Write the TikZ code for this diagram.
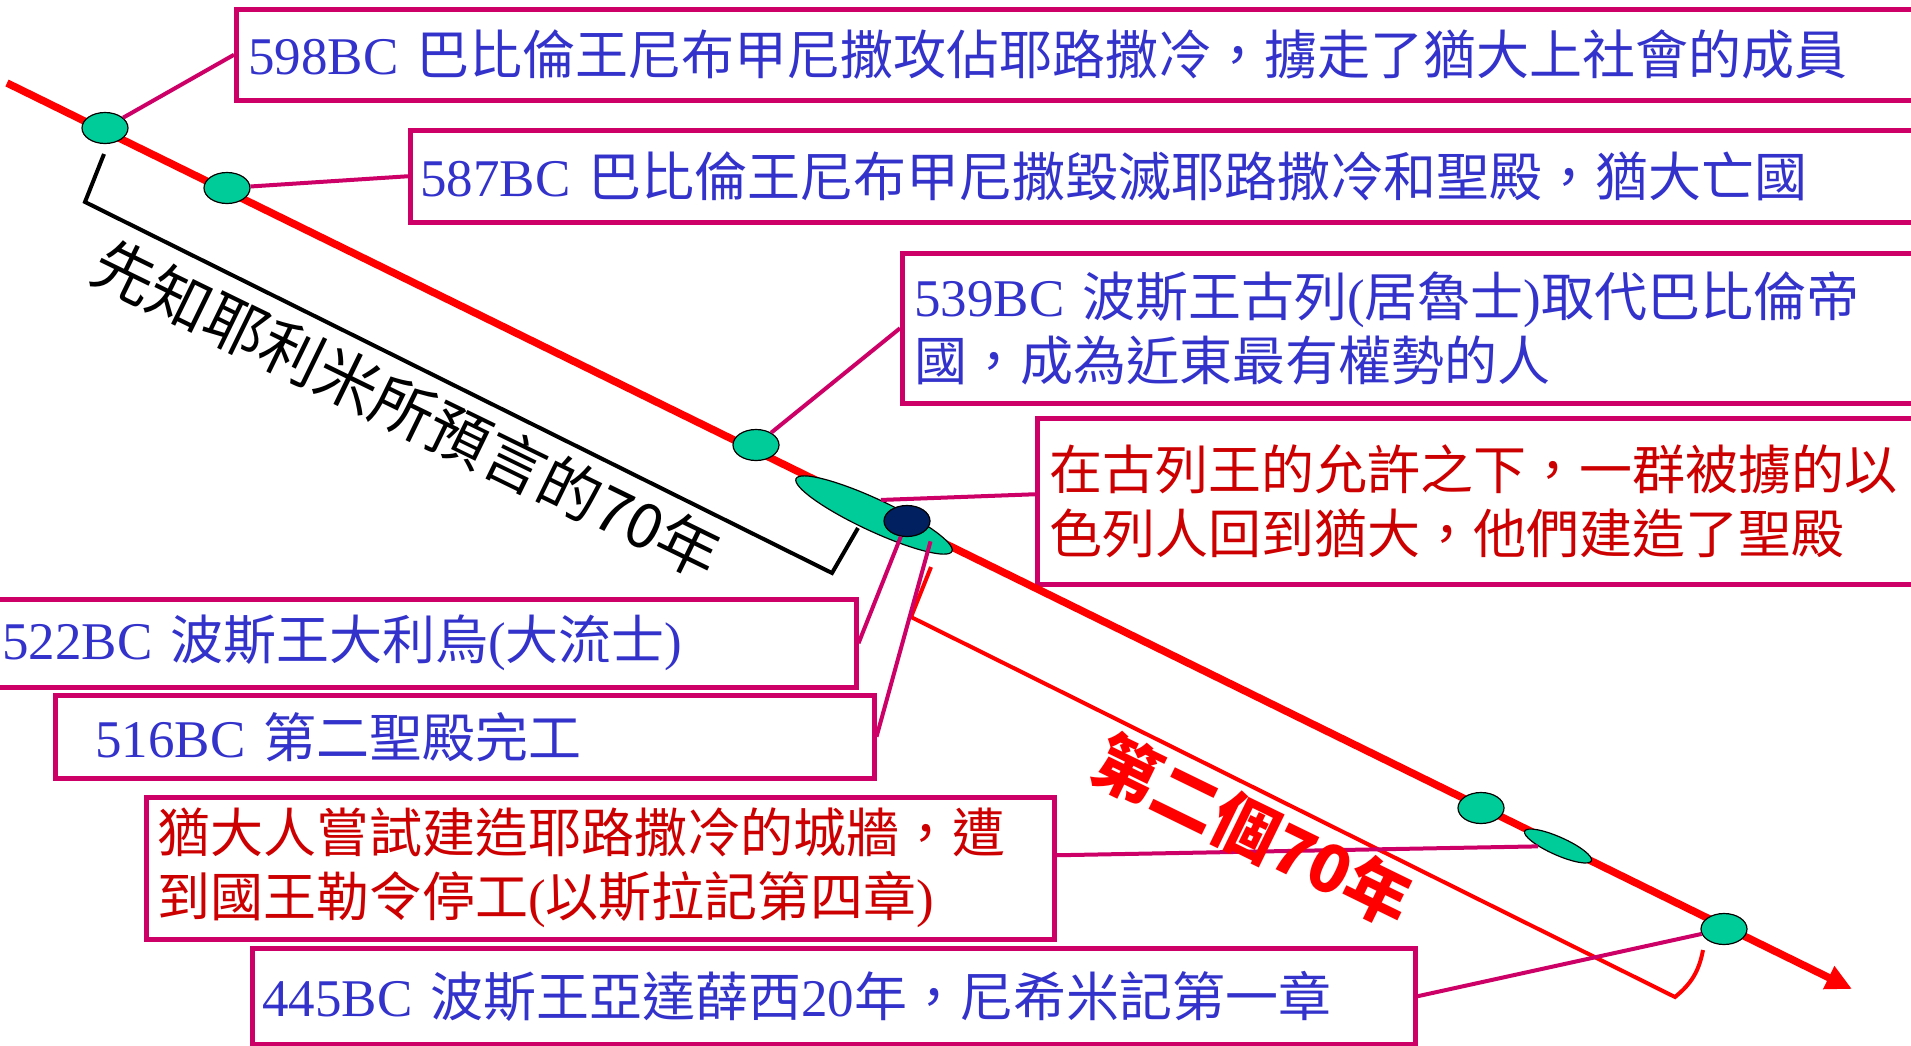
\documentclass[tikz,border=0pt]{standalone}
\usepackage{fontspec}
\setmainfont{Liberation Serif}
\newfontfamily\cjk{Noto Sans CJK TC}
\newcommand\zh[1]{{\cjk #1}}
\usetikzlibrary{shapes,arrows.meta,positioning,calc}
\definecolor{boxline}{RGB}{204,0,102}
\definecolor{evtblue}{RGB}{51,51,204}
\definecolor{evtred}{RGB}{204,0,0}
\definecolor{dotgreen}{RGB}{0,204,153}
\definecolor{dotnavy}{RGB}{0,32,96}

\begin{document}
\begin{tikzpicture}[x=1bp,y=-1bp,
  box/.style={draw=boxline,line width=4.5bp,anchor=north west,align=left,inner ysep=0pt,
    text=evtblue,font=\fontsize{53bp}{64bp}\selectfont},
  conn/.style={boxline,line width=4bp},
  dot/.style={ellipse,draw=black,line width=1.2bp,fill=dotgreen,
    minimum width=46bp,minimum height=31bp,inner sep=0pt},
  bracket/.style={line width=4bp}]
\useasboundingbox (0,0) rectangle (1911,1045);

\node[box,inner xsep=12bp,text width=1702bp,minimum height=91bp] (b1) at (234,7)
  {598BC \zh{巴比倫王尼布甲尼撒攻佔耶路撒冷，擄走了猶大上社會的成員}};
\node[box,inner xsep=10bp,text width=1532bp,minimum height=92bp] (b2) at (408,128)
  {587BC \zh{巴比倫王尼布甲尼撒毀滅耶路撒冷和聖殿，猶大亡國}};
\node[box,inner xsep=12bp,text width=1036bp,minimum height=150bp] (b3) at (900,251)
  {539BC \zh{波斯王古列}(\zh{居魯士})\zh{取代巴比倫帝}\\\zh{國，成為近東最有權勢的人}};
\node[box,text=evtred,inner xsep=12bp,text width=901bp,minimum height=166bp] (b4) at (1035,416)
  {\zh{在古列王的允許之下，一群被擄的以}\\\zh{色列人回到猶大，他們建造了聖殿}};
\node[box,inner xsep=20bp,text width=834bp,minimum height=88bp] (b5) at (-20,597)
  {522BC \zh{波斯王大利烏}(\zh{大流士})};
\node[box,inner xsep=40bp,text width=739bp,minimum height=83bp] (b6) at (53,693)
  {516BC \zh{第二聖殿完工}};
\node[box,text=evtred,inner xsep=11bp,text width=886bp,minimum height=142bp] (b7) at (144,795)
  {\zh{猶大人嘗試建造耶路撒冷的城牆，遭}\\\zh{到國王勒令停工}(\zh{以斯拉記第四章})};
\node[box,inner xsep=10bp,text width=1143bp,minimum height=96bp] (b8) at (250,946)
  {445BC \zh{波斯王亞達薛西}20\zh{年，尼希米記第一章}};

\coordinate (t0) at (7,83);
\coordinate (t1) at (1852,989);
\draw[red,line width=7.5bp,-{Triangle[length=26bp,width=24bp]}] (t0) -- (t1);

\draw[bracket] (104,154) -- (85,202) -- (832,573) -- (858,528);
\draw[bracket,red] (931,567) -- (911,617) -- (1675,997) to[bend right=20] (1703,950);

\node[dot] (d1) at (105,128) {};
\node[dot] (d2) at (227,188) {};
\node[dot] (d3) at (756,445) {};
\node[dot,minimum width=172bp,minimum height=32bp,rotate=-25] (e4) at (874,515) {};
\node[dot,fill=dotnavy] (n5) at (907,521) {};
\node[dot] (d6) at (1481,808) {};
\node[dot,minimum width=73bp,minimum height=18bp,rotate=-24] (e7) at (1558,846) {};
\node[dot] (d8) at (1724,929) {};

\draw[conn] (d1) -- (b1.west);
\draw[conn] (d2) -- (b2.west);
\draw[conn] (d3) -- (b3.west);
\draw[conn] ([yshift=7bp]b4.west) -- (e4.north);
\draw[conn] (n5) -- (b5.east);
\draw[conn] ($(e4.center)!0.72!(e4.east)$) -- (b6.east);
\draw[conn] ([yshift=13bp]b7.east) -- (e7);
\draw[conn] (b8.east) -- (d8);

\node[font=\cjk\fontsize{62bp}{62bp}\selectfont,rotate=-26] (p70) at (407,409)
  {先知耶利米所預言的70年};
\node[font=\cjk\bfseries\fontsize{66bp}{66bp}\selectfont,text=red,rotate=-26] (s70) at (1253,830)
  {第二個70年};
\end{tikzpicture}
\end{document}
